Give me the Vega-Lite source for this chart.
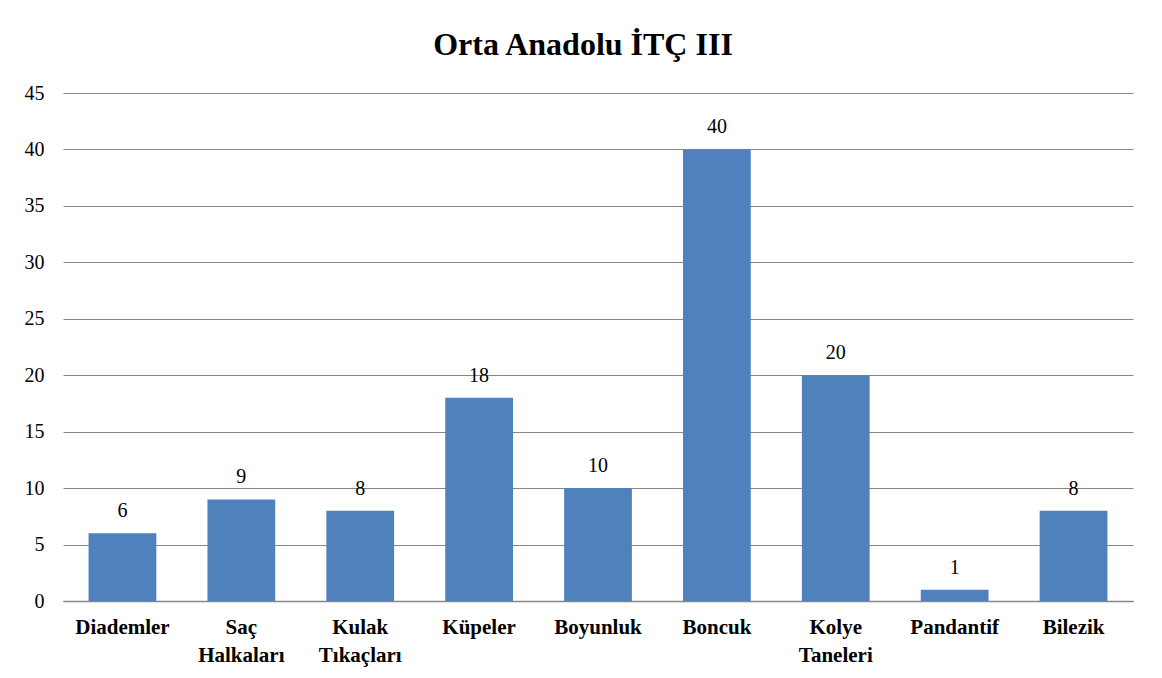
{
  "$schema": "https://vega.github.io/schema/vega-lite/v6.json",
  "width": 1070,
  "height": 508,
  "autosize": {"type": "none"},
  "padding": {"left": 63, "top": 93, "right": 29, "bottom": 77},
  "background": "white",
  "title": {
    "text": "Orta Anadolu İTÇ III",
    "font": "Liberation Serif",
    "fontSize": 32,
    "fontWeight": "bold",
    "color": "#000000",
    "anchor": "middle",
    "dx": -15,
    "offset": 21
  },
  "data": {
    "values": [
      {"kategori": "Diademler", "deger": 6},
      {"kategori": "Saç Halkaları", "deger": 9},
      {"kategori": "Kulak Tıkaçları", "deger": 8},
      {"kategori": "Küpeler", "deger": 18},
      {"kategori": "Boyunluk", "deger": 10},
      {"kategori": "Boncuk", "deger": 40},
      {"kategori": "Kolye Taneleri", "deger": 20},
      {"kategori": "Pandantif", "deger": 1},
      {"kategori": "Bilezik", "deger": 8}
    ]
  },
  "encoding": {
    "x": {
      "field": "kategori",
      "type": "nominal",
      "sort": null,
      "scale": {"paddingInner": 0.43, "paddingOuter": 0.215},
      "axis": {
        "title": null,
        "labelAngle": 0,
        "labelFont": "Liberation Serif",
        "labelFontSize": 21,
        "labelFontWeight": "bold",
        "labelColor": "#000000",
        "labelExpr": "split(datum.label, ' ')",
        "labelLineHeight": 28,
        "labelPadding": 15,
        "ticks": false,
        "domain": true,
        "domainColor": "#868686",
        "domainWidth": 1.5
      }
    },
    "y": {
      "field": "deger",
      "type": "quantitative",
      "scale": {"domain": [0, 45]},
      "axis": {
        "title": null,
        "values": [0, 5, 10, 15, 20, 25, 30, 35, 40, 45],
        "labelFont": "Liberation Serif",
        "labelFontSize": 20,
        "labelColor": "#000000",
        "labelPadding": 19,
        "ticks": false,
        "domain": false,
        "grid": true,
        "gridColor": "#868686",
        "gridWidth": 1.2
      }
    }
  },
  "layer": [
    {"mark": {"type": "bar", "color": "#4F81BD"}},
    {
      "mark": {
        "type": "text",
        "baseline": "bottom",
        "dy": -12,
        "font": "Liberation Serif",
        "fontSize": 20,
        "color": "#000000"
      },
      "encoding": {"text": {"field": "deger", "type": "quantitative"}}
    }
  ],
  "config": {"view": {"stroke": null}}
}
